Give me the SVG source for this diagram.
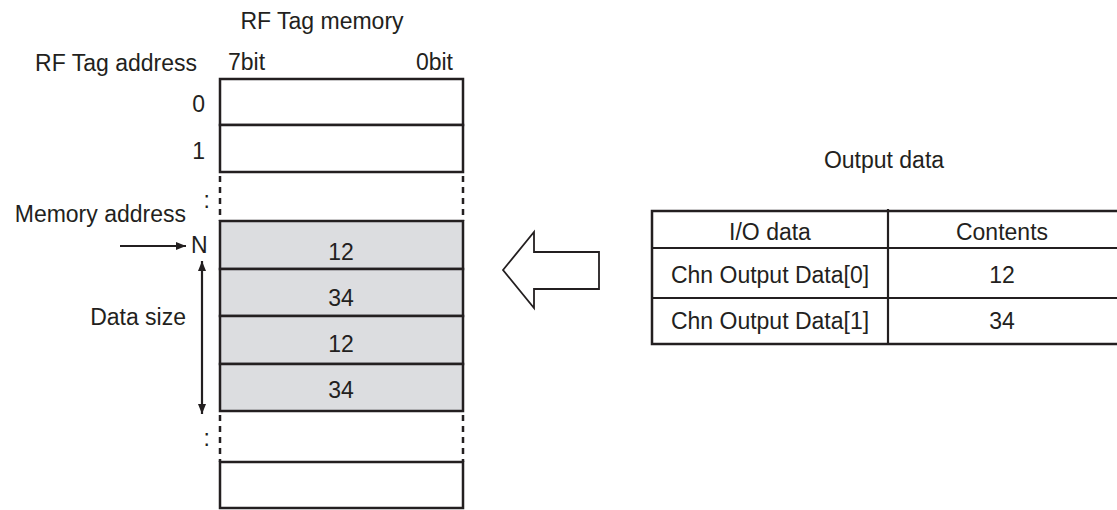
<svg xmlns="http://www.w3.org/2000/svg" width="1117" height="510" viewBox="0 0 1117 510">
<defs>
<style>
text{font-family:"Liberation Sans",Arial,sans-serif;font-size:23px;fill:#231f20}
.m{text-anchor:middle}
.e{text-anchor:end}
.box{fill:#fff;stroke:#231f20;stroke-width:2.5}
.g{fill:#dcdde0;stroke:#231f20;stroke-width:2.5}
.ln{stroke:#231f20;stroke-width:2.2;fill:none}
.dash{stroke:#231f20;stroke-width:2.5;stroke-dasharray:6 5;fill:none}
</style>
<marker id="ah" viewBox="0 0 10 10" refX="10" refY="5" markerWidth="10" markerHeight="10" markerUnits="userSpaceOnUse" orient="auto-start-reverse">
<path d="M0,1 L10,5 L0,9 Z" fill="#231f20"/>
</marker>
</defs>
<rect width="1117" height="510" fill="#fff"/>
<g id="labels">
<text class="m" x="322" y="29">RF Tag memory</text>
<text class="e" x="197" y="71">RF Tag address</text>
<text x="228" y="70">7bit</text>
<text class="e" x="453" y="70">0bit</text>
<text class="e" x="205" y="112">0</text>
<text class="e" x="205" y="159">1</text>
<text class="e" x="210" y="208">:</text>
<text class="e" x="186" y="222">Memory address</text>
<text x="191" y="253">N</text>
<text class="e" x="186" y="325">Data size</text>
<text class="e" x="210" y="446">:</text>
<text class="m" x="884" y="168">Output data</text>
</g>
<g id="memory">
<rect class="box" x="220" y="79" width="243" height="46"/>
<rect class="box" x="220" y="125" width="243" height="47"/>
<line class="dash" x1="220" y1="176" x2="220" y2="221"/>
<line class="dash" x1="463" y1="176" x2="463" y2="221"/>
<rect class="g" x="220" y="221" width="243" height="48"/>
<rect class="g" x="220" y="269" width="243" height="47"/>
<rect class="g" x="220" y="316" width="243" height="48"/>
<rect class="g" x="220" y="364" width="243" height="47"/>
<text class="m" x="341" y="260">12</text>
<text class="m" x="341" y="306">34</text>
<text class="m" x="341" y="352">12</text>
<text class="m" x="341" y="398">34</text>
<line class="dash" x1="220" y1="415" x2="220" y2="462"/>
<line class="dash" x1="463" y1="415" x2="463" y2="462"/>
<rect class="box" x="220" y="462" width="243" height="46"/>
</g>
<g id="table">
<rect x="652" y="211" width="475" height="133" fill="#fff" stroke="#231f20" stroke-width="2.5"/>
<line class="ln" x1="652" y1="248" x2="1117" y2="248"/>
<line class="ln" x1="652" y1="298" x2="1117" y2="298"/>
<line class="ln" x1="888" y1="209" x2="888" y2="344"/>
<text class="m" x="770" y="240">I/O data</text>
<text class="m" x="1002" y="240">Contents</text>
<text class="m" x="770" y="283">Chn Output Data[0]</text>
<text class="m" x="1002" y="283">12</text>
<text class="m" x="770" y="329">Chn Output Data[1]</text>
<text class="m" x="1002" y="329">34</text>
</g>
<g id="connectors">
<line class="ln" x1="120" y1="246" x2="186" y2="246" marker-end="url(#ah)"/>
<line class="ln" x1="202" y1="261" x2="202" y2="414" marker-start="url(#ah)" marker-end="url(#ah)"/>
<path d="M503,270 L534,232 L534,252 L599,252 L599,289 L534,289 L534,308 Z" fill="#fff" stroke="#231f20" stroke-width="1.8" stroke-linejoin="miter"/>
</g>
</svg>
